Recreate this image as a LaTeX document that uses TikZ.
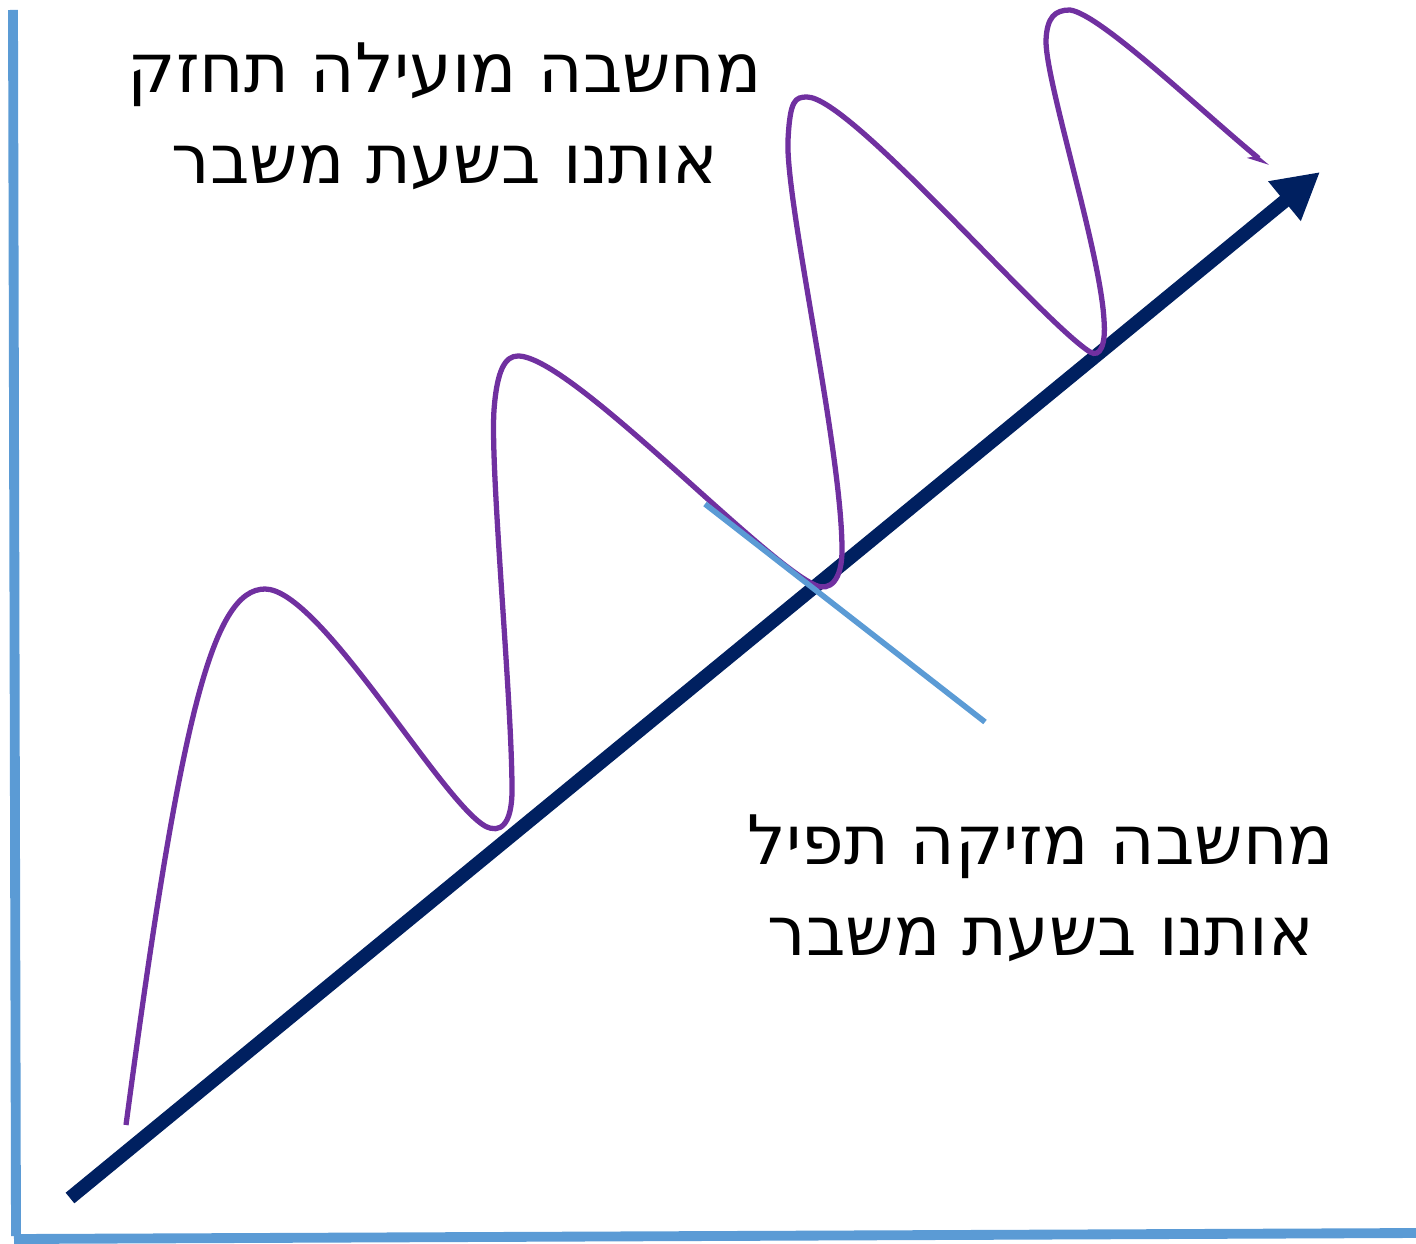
\documentclass[tikz,border=0pt]{standalone}
\usepackage{fontspec}
\newfontfamily\hebfont[Script=Hebrew]{DejaVu Sans}
\TeXXeTstate=1
\usetikzlibrary{arrows.meta}
\definecolor{navy}{HTML}{002060}
\definecolor{thought}{HTML}{7030A0}
\definecolor{axisblue}{HTML}{5B9BD5}

\begin{document}
\begin{tikzpicture}[x=0.01cm, y=-0.01cm,
    labeltext/.style={font=\hebfont\fontsize{19.4}{25.8}\selectfont, align=center, inner sep=0pt}]
    \useasboundingbox (0,0) rectangle (1416,1243);
    % axes
    \draw[axisblue, line width=2.8pt] (13,10) -- (16,1236);
    \draw[axisblue, line width=2.8pt] (14,1239) -- (1416,1233);
    % trend arrow
    \coordinate (base) at (70,1198);
    \coordinate (tip) at (1320,172);
    \draw[navy, line width=3.9pt, -{Triangle[length=0.46cm, width=0.48cm]}] (base) -- (tip);
    % wave of thoughts
    \draw[thought, line width=1.5pt, -{Stealth[length=5pt, width=4pt, right]}]
      (126,1125) .. controls (180,720) and (212,589) .. (265,589)
      .. controls (320,589) and (440,800) .. (485,826)
      .. controls (500,834) and (512,825) .. (512,790)
      .. controls (512,700) and (490,470) .. (494,410)
      .. controls (497,370) and (505,356) .. (518,356)
      .. controls (570,356) and (760,560) .. (815,585)
      .. controls (830,592) and (842,580) .. (842,550)
      .. controls (842,450) and (785,200) .. (788,140)
      .. controls (790,100) and (795,97) .. (807,97)
      .. controls (850,97) and (1040,320) .. (1090,352)
      .. controls (1100,358) and (1106,345) .. (1104,320)
      .. controls (1100,250) and (1045,80) .. (1046,40)
      .. controls (1047,17) and (1055,10) .. (1070,10)
      .. controls (1100,14) and (1200,110) .. (1268,166);
    % crossing line
    \coordinate (cutA) at (705,504);
    \coordinate (cutB) at (985,722);
    \draw[axisblue, line width=1.6pt] (cutA) -- (cutB);
    \node[labeltext] (helpful) at (445,116) {\beginR מחשבה מועילה תחזק\endR\\\beginR אותנו בשעת משבר\endR};
    \node[labeltext] (harmful) at (1041,888) {\beginR מחשבה מזיקה תפיל\endR\\\beginR אותנו בשעת משבר\endR};
\end{tikzpicture}
\end{document}
